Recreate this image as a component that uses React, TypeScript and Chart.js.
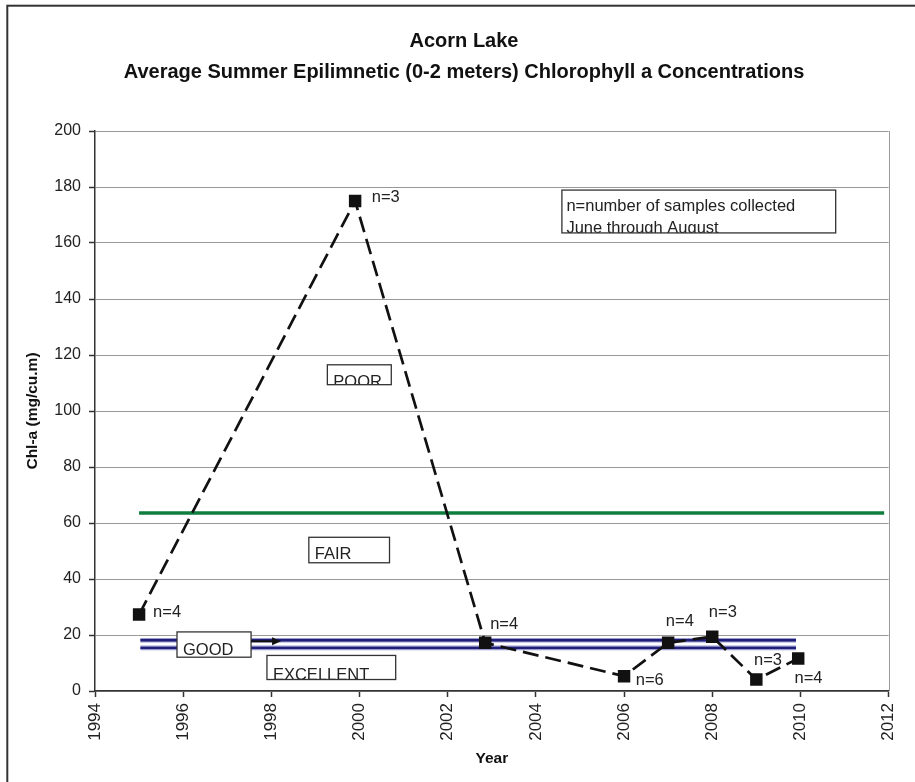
import React, { useEffect, useRef } from "react";
import { Chart, registerables } from "chart.js";

Chart.register(...registerables);

// ---- data ----
const years = [1995, 1999.9, 2002.85, 2006, 2007, 2008, 2009, 2009.95];
const chlA = [27.3, 175, 17.2, 5.3, 17.2, 19.4, 4.1, 11.6];
const sampleLabels = ["n=4", "n=3", "n=4", "n=6", "n=4", "n=3", "n=3", "n=4"];

const fairPoorValue = 63.6;
const fairPoorYears = [1995, 2011.9];
const goodUpperValue = 18.1;
const goodLowerValue = 15.4;
const goodYears = [1995.03, 2009.9];

const titleLines = [
  "Acorn Lake",
  "Average Summer Epilimnetic (0-2 meters) Chlorophyll a Concentrations",
];
const xTitle = "Year";
const yTitle = "Chl-a (mg/cu.m)";
const noteLines = ["n=number of samples collected", "June through August"];

// ---- layout (pixel offsets for labels, annotation boxes in data units) ----
const labelOffsets: [number, number][] = [
  [14, -2],
  [16.6, -3.4],
  [5, -18],
  [11.7, 4],
  [-2.3, -21.6],
  [-3.4, -24],
  [-2.3, -19],
  [-3.7, 20.3],
];

const zoneBoxes = [
  { text: "POOR", x0: 1999.27, x1: 2000.72, top: 116.5, bottom: 109.4, base: 2 },
  { text: "FAIR", x0: 1998.85, x1: 2000.68, top: 54.9, bottom: 45.8, base: -4 },
  { text: "GOOD", x0: 1995.86, x1: 1997.54, top: 21.1, bottom: 12.07, base: -2.7 },
  { text: "EXCELLENT", x0: 1997.9, x1: 2000.82, top: 12.7, bottom: 4.1, base: 0.5 },
];
const noteBox = { x0: 2004.59, x1: 2010.8, top: 178.9, bottom: 163.6 };

const FONT = "'Liberation Sans', Arial, sans-serif";

const decorPlugin = {
  id: "decor",
  beforeDraw(chart: any) {
    const ctx = chart.ctx;
    ctx.save();
    ctx.fillStyle = "#ffffff";
    ctx.fillRect(0, 0, chart.width, chart.height);
    ctx.strokeStyle = "#333333";
    ctx.lineWidth = 2;
    ctx.strokeRect(7.3, 5.7, chart.width + 100, chart.height + 100);
    ctx.restore();
  },
  beforeDatasetsDraw(chart: any) {
    const ctx = chart.ctx;
    const a = chart.chartArea;
    ctx.save();
    ctx.strokeStyle = "#999999";
    ctx.lineWidth = 1;
    ctx.beginPath();
    ctx.moveTo(Math.round(a.right) + 0.5, a.top);
    ctx.lineTo(Math.round(a.right) + 0.5, a.bottom);
    ctx.stroke();
    ctx.restore();
  },
  afterDatasetsDraw(chart: any) {
    const ctx = chart.ctx;
    const xs = chart.scales.x;
    const ys = chart.scales.y;
    ctx.save();

    // zone boxes
    for (const b of zoneBoxes) {
      const l = xs.getPixelForValue(b.x0);
      const r = xs.getPixelForValue(b.x1);
      const t = ys.getPixelForValue(b.top);
      const bt = ys.getPixelForValue(b.bottom);
      ctx.fillStyle = "#ffffff";
      ctx.fillRect(l, t, r - l, bt - t);
      ctx.save();
      ctx.beginPath();
      ctx.rect(l, t, r - l, bt - t);
      ctx.clip();
      ctx.fillStyle = "#222222";
      ctx.font = `16.5px ${FONT}`;
      ctx.textAlign = "left";
      ctx.textBaseline = "alphabetic";
      ctx.fillText(b.text, l + 6, bt + b.base);
      ctx.restore();
      ctx.strokeStyle = "#333333";
      ctx.lineWidth = 1.3;
      ctx.strokeRect(l, t, r - l, bt - t);
    }

    // arrow from GOOD box
    {
      const g = zoneBoxes[2];
      const sx = xs.getPixelForValue(g.x1);
      const ex = xs.getPixelForValue(g.x1) + 30;
      const y = ys.getPixelForValue(goodUpperValue) + 1;
      ctx.strokeStyle = "#111111";
      ctx.lineWidth = 2;
      ctx.beginPath();
      ctx.moveTo(sx, y);
      ctx.lineTo(ex - 6, y);
      ctx.stroke();
      ctx.fillStyle = "#111111";
      ctx.beginPath();
      ctx.moveTo(ex, y);
      ctx.lineTo(ex - 9, y - 4);
      ctx.lineTo(ex - 9, y + 4);
      ctx.closePath();
      ctx.fill();
    }

    // note box
    {
      const l = xs.getPixelForValue(noteBox.x0);
      const r = xs.getPixelForValue(noteBox.x1);
      const t = ys.getPixelForValue(noteBox.top);
      const bt = ys.getPixelForValue(noteBox.bottom);
      ctx.fillStyle = "#ffffff";
      ctx.fillRect(l, t, r - l, bt - t);
      ctx.save();
      ctx.beginPath();
      ctx.rect(l, t, r - l, bt - t);
      ctx.clip();
      ctx.fillStyle = "#222222";
      ctx.font = `16.5px ${FONT}`;
      ctx.textAlign = "left";
      ctx.textBaseline = "alphabetic";
      ctx.fillText(noteLines[0], l + 4.5, t + 21);
      ctx.fillText(noteLines[1], l + 4.5, t + 43);
      ctx.restore();
      ctx.strokeStyle = "#333333";
      ctx.lineWidth = 1.3;
      ctx.strokeRect(l, t, r - l, bt - t);
    }

    // sample count labels
    ctx.fillStyle = "#222222";
    ctx.font = `16.5px ${FONT}`;
    ctx.textAlign = "left";
    ctx.textBaseline = "middle";
    const meta = chart.getDatasetMeta(0);
    meta.data.forEach((pt: any, i: number) => {
      const [dx, dy] = labelOffsets[i];
      ctx.fillText(sampleLabels[i], pt.x + dx, pt.y + dy);
    });
    ctx.restore();
  },
  afterDraw(chart: any) {
    const ctx = chart.ctx;
    const a = chart.chartArea;
    ctx.save();
    ctx.fillStyle = "#111111";
    ctx.textAlign = "center";
    ctx.textBaseline = "middle";
    ctx.font = `bold 20px ${FONT}`;
    ctx.fillText(titleLines[0], 464, 41);
    ctx.fillText(titleLines[1], 464, 72);

    ctx.font = `bold 15.5px ${FONT}`;
    ctx.fillText(xTitle, (a.left + a.right) / 2, 759);
    ctx.translate(33, (a.top + a.bottom) / 2);
    ctx.rotate(-Math.PI / 2);
    ctx.fillText(yTitle, 0, 0);
    ctx.restore();
  },
};

export default function App() {
  const ref = useRef<HTMLCanvasElement | null>(null);

  useEffect(() => {
    document.body.style.margin = "0";
    const canvas = ref.current;
    if (!canvas) return;
    const mainData = years.map((x, i) => ({ x, y: chlA[i] }));
    const chart = new Chart(canvas, {
      type: "line",
      data: {
        datasets: [
          {
            label: "Chl-a",
            data: mainData,
            borderColor: "#111111",
            borderWidth: 2.7,
            borderDash: [16, 7],
            tension: 0,
            pointStyle: "rect",
            pointRadius: 8.8,
            pointBackgroundColor: "#111111",
            pointBorderWidth: 0,
            fill: false,
          },
          {
            label: "good-upper-core",
            data: goodYears.map((x) => ({ x, y: goodUpperValue })),
            borderColor: "#1f1f78",
            borderWidth: 2.4,
            pointRadius: 0,
            fill: false,
          },
          {
            label: "good-lower-core",
            data: goodYears.map((x) => ({ x, y: goodLowerValue })),
            borderColor: "#1f1f78",
            borderWidth: 2.4,
            pointRadius: 0,
            fill: false,
          },
          {
            label: "good-upper-halo",
            data: goodYears.map((x) => ({ x, y: goodUpperValue })),
            borderColor: "#9a9ad0",
            borderWidth: 4.6,
            pointRadius: 0,
            fill: false,
          },
          {
            label: "good-lower-halo",
            data: goodYears.map((x) => ({ x, y: goodLowerValue })),
            borderColor: "#9a9ad0",
            borderWidth: 4.6,
            pointRadius: 0,
            fill: false,
          },
          {
            label: "fair-poor",
            data: fairPoorYears.map((x) => ({ x, y: fairPoorValue })),
            borderColor: "#0e7d3d",
            borderWidth: 3.5,
            pointRadius: 0,
            fill: false,
          },
        ],
      },
      options: {
        animation: false,
        responsive: false,
        devicePixelRatio: 1,
        layout: { padding: { left: 0, top: 131, right: 26, bottom: 0 } },
        plugins: {
          legend: { display: false },
          title: { display: false },
          tooltip: { enabled: false },
        },
        scales: {
          x: {
            type: "linear",
            min: 1994,
            max: 2012,
            afterFit: (s: any) => {
              s.height = 91;
            },
            ticks: {
              stepSize: 2,
              minRotation: 90,
              maxRotation: 90,
              padding: 6,
              color: "#222222",
              font: { family: FONT, size: 17 },
              callback: (v: any) => String(v),
            },
            grid: {
              drawOnChartArea: false,
              drawTicks: true,
              tickLength: 6,
              tickColor: "#333333",
              tickWidth: 1.5,
            },
            border: { color: "#333333", width: 1.5 },
          },
          y: {
            type: "linear",
            min: 0,
            max: 200,
            afterFit: (s: any) => {
              s.width = 95;
            },
            ticks: {
              stepSize: 20,
              padding: 8,
              color: "#222222",
              font: { family: FONT, size: 16 },
            },
            grid: {
              color: "#999999",
              lineWidth: 1,
              drawTicks: true,
              tickLength: 6,
              tickColor: "#333333",
              tickWidth: 1.5,
            },
            border: { color: "#333333", width: 1.5 },
          },
        },
      },
      plugins: [decorPlugin],
    } as any);
    return () => chart.destroy();
  }, []);

  return (
    <div style={{ position: "fixed", left: 0, top: 0, width: 915, height: 782 }}>
      <canvas ref={ref} width={915} height={782} />
    </div>
  );
}
